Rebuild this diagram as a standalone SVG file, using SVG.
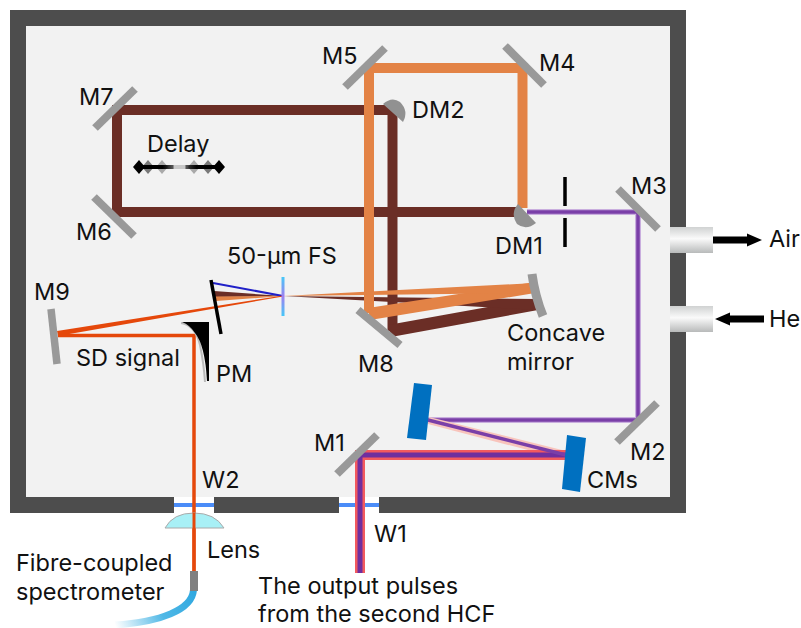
<svg xmlns="http://www.w3.org/2000/svg" width="801" height="628" viewBox="0 0 801 628">
<defs>
<linearGradient id="port" x1="0" y1="0" x2="0" y2="1"><stop offset="0" stop-color="#d0d2d2"/><stop offset="0.45" stop-color="#fafafa"/><stop offset="1" stop-color="#b8baba"/></linearGradient>
<linearGradient id="fs" x1="0" y1="0" x2="0" y2="1"><stop offset="0" stop-color="#45c8f8"/><stop offset="0.5" stop-color="#a080f0"/><stop offset="1" stop-color="#45c8f8"/></linearGradient>
<linearGradient id="fibre" gradientUnits="userSpaceOnUse" x1="194" y1="590" x2="115" y2="625"><stop offset="0" stop-color="#30a8e0"/><stop offset="0.45" stop-color="#50b8e6"/><stop offset="1" stop-color="#ffffff"/></linearGradient>
<linearGradient id="delay" gradientUnits="userSpaceOnUse" x1="137" y1="167" x2="222" y2="167"><stop offset="0" stop-color="#000"/><stop offset="0.3" stop-color="#000"/><stop offset="0.42" stop-color="#555"/><stop offset="0.44" stop-color="#c8c8c8"/><stop offset="0.56" stop-color="#c8c8c8"/><stop offset="0.58" stop-color="#555"/><stop offset="0.7" stop-color="#000"/><stop offset="1" stop-color="#000"/></linearGradient>
<marker id="ah" markerUnits="userSpaceOnUse" markerWidth="16" markerHeight="14" refX="1" refY="7" orient="auto"><path d="M0,0.5 L15,7 L0,13.5 Z" fill="#000"/></marker>
</defs>
<style>
text{font-family:Inter,"Open Sans","Liberation Sans",sans-serif;font-size:23.500px;fill:#111}
.mir{stroke:#999;stroke-width:8;fill:none}
.dm{fill:#919191}
.or{stroke:#e38346;stroke-width:10;fill:none}
.br{stroke:#6b2e26;stroke-width:10;fill:none}
.cm{fill:#0070c0}
.sd{stroke:#e5480b;stroke-width:3.500;fill:none}
.p1{stroke:#c9aede;stroke-width:6;fill:none}
.p2{stroke:#7a3fa8;stroke-width:3.500;fill:none}
.r2{stroke:#f25a5f;stroke-width:10;fill:none}
.r3{stroke:#6f2f9f;stroke-width:5;fill:none}
.win{stroke:#4a8cf8;stroke-width:4}
</style>
<rect width="801" height="628" fill="#fff"/>
<g id="chamber">
<rect x="18" y="18" width="660" height="487" fill="#f2f2f2" stroke="#4d4d4d" stroke-width="16"/>
<rect x="174" y="497" width="40" height="16" fill="#fff"/>
<rect x="339" y="497" width="40" height="16" fill="#fff"/>
</g>
<g id="ports">
<rect x="670" y="227" width="43" height="26" fill="url(#port)"/>
<rect x="670" y="306" width="43" height="26" fill="url(#port)"/>
</g>
<g id="connectors">
<path class="win" d="M174,505H214M339,505H379"/>
<path class="br" d="M392.500,110H117V212H518"/>
<path class="br" d="M392.500,110V331"/>
<path fill="#6b2e26" d="M388,325L538,298V310L391,337Z"/>
<path fill="#6b2e26" d="M283,296L538,299V310Z"/>
<path class="or" d="M369,313V68H522.500V208"/>
<path fill="#e38346" d="M368,308L535,282V293L370,320Z"/>
<path fill="#e38346" d="M283,296L535,283V293Z"/>
<path fill="#6b2e26" d="M283,296L214,291L215,297Z"/>
<path fill="#e38346" d="M283,296L215,296.500L216,301Z"/>
<path d="M283,296L213,283" stroke="#2020c8" stroke-width="2" fill="none"/>
<path fill="#e5480b" d="M283,295.500L57,331L58,336L283,296.500Z"/>
<path class="sd" d="M58,335.500H194V573"/>
<path class="p1" d="M527,212H638V420H428"/>
<path class="p2" d="M527,212H638V420H428"/>
<path d="M429,417L566,451L566,460L428,424Z" fill="#f8c4bc"/>
<path class="r2" d="M566,455H360V573"/>
<path class="r3" d="M566,455H360V573"/>
<path class="p2" d="M428,420L566,455"/>
</g>
<g id="M1"><path class="mir" d="M337,474L377,435"/><text x="314" y="451">M1</text></g>
<g id="M2"><path class="mir" d="M617,442L657,403"/><text x="630" y="460">M2</text></g>
<g id="M3"><path class="mir" d="M618,189L658,229"/><text x="631" y="194">M3</text></g>
<g id="M4"><path class="mir" d="M505,46L544,85"/><text x="539" y="71">M4</text></g>
<g id="M5"><path class="mir" d="M345,87L385,48"/><text x="322" y="64">M5</text></g>
<g id="M6"><path class="mir" d="M94,197L134,236"/><text x="76" y="240">M6</text></g>
<g id="M7"><path class="mir" d="M95,128L135,89"/><text x="79" y="105">M7</text></g>
<g id="M8"><path class="mir" d="M358,310L400,345"/><text x="358" y="372">M8</text></g>
<g id="M9"><path d="M51,309L57,364" stroke="#999" stroke-width="7.500" fill="none"/><text x="34" y="300">M9</text></g>
<g id="DM1"><path class="dm" d="M518,204L536,223Q526,231 517,224Q510,213 518,204Z"/><text x="495" y="254">DM1</text></g>
<g id="DM2"><path class="dm" d="M383,104Q392,96 400,102Q409,111 403,122Z"/><text x="412" y="118">DM2</text></g>
<g id="iris"><path d="M565,177V206M565,218V247" stroke="#000" stroke-width="3.500" fill="none"/></g>
<g id="slit"><path d="M211,280L221,334" stroke="#000" stroke-width="3.500" fill="none"/></g>
<g id="fs-plate"><rect x="281.500" y="277" width="3" height="39" fill="url(#fs)"/><text x="227" y="264">50-µm FS</text></g>
<g id="concave"><path d="M532,274Q535,296 543,316" stroke="#999" stroke-width="9" fill="none"/><text x="507" y="341">Concave</text><text x="507" y="369.500">mirror</text></g>
<g id="PM"><path d="M181,323Q195,325 200,345Q204,365 205,382" stroke="#bbb" stroke-width="2" fill="none"/><path d="M182,322H209V381H207Q205,345 195,333Q190,325 182,322Z" fill="#000"/><text x="216" y="382">PM</text></g>
<g id="sd-label"><text x="76" y="366">SD signal</text></g>
<g id="CMs"><path class="cm" d="M414,383L432,385L426,440L407,438Z"/><path class="cm" d="M567,435L586,438L580,492L562,489Z"/><text x="587" y="488">CMs</text></g>
<g id="delay-stage">
<text x="147" y="152">Delay</text>
<path d="M137,167H222" stroke="url(#delay)" stroke-width="4" fill="none"/>
<path d="M133,167L139,160L145,167L139,174Z" fill="#000"/>
<path d="M142,167L148,160L154,167L148,174Z" fill="#000" opacity=".5"/>
<path d="M156,167L162,160L168,167L162,174Z" fill="#000" opacity=".3"/>
<path d="M188,167L194,160L200,167L194,174Z" fill="#000" opacity=".3"/>
<path d="M202,167L208,160L214,167L208,174Z" fill="#000" opacity=".5"/>
<path d="M213,167L219,160L225,167L219,174Z" fill="#000"/>
</g>
<g id="W1"><text x="374" y="542">W1</text></g>
<g id="W2"><text x="202" y="488">W2</text></g>
<g id="lens"><path d="M165,528Q173,513 194,513Q215,513 224,528Z" fill="#a8f0f6" stroke="#aaa" stroke-width="1"/><text x="207" y="558">Lens</text></g>
<path d="M194,513V571" stroke="#e5480b" stroke-width="3" fill="none"/>
<g id="spectrometer">
<path d="M193.500,590C192,610 160,622 115,625" stroke="url(#fibre)" stroke-width="7" fill="none"/>
<rect x="190" y="571" width="8" height="20" fill="#808080"/>
<text x="16" y="571">Fibre-coupled</text><text x="16" y="600">spectrometer</text>
</g>
<g id="source"><text x="258" y="593.500">The output pulses</text><text x="258" y="622">from the second HCF</text></g>
<g id="air"><path d="M713,240H748" stroke="#000" stroke-width="7" marker-end="url(#ah)"/><text x="769" y="247">Air</text></g>
<g id="he"><path d="M764,319H729" stroke="#000" stroke-width="7" marker-end="url(#ah)"/><text x="769" y="327">He</text></g>
</svg>
